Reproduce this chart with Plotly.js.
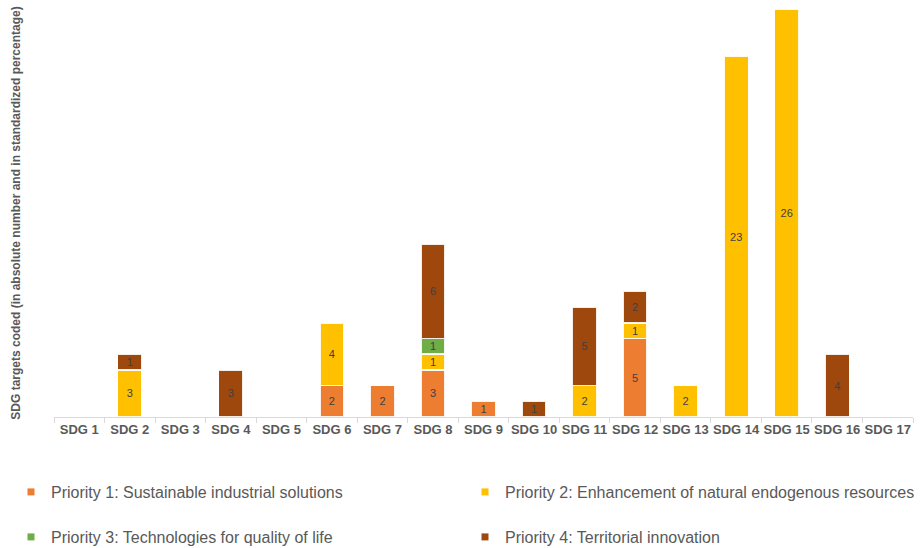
<!DOCTYPE html>
<html>
<head>
<meta charset="utf-8">
<script src="https://cdn.plot.ly/plotly-3.0.1.min.js"></script>
<style>html,body{margin:0;padding:0;background:#fff;}#chart{width:921px;height:548px;}</style>
</head>
<body>
<div id="chart"></div>
<script>
const categories = ["SDG 1","SDG 2","SDG 3","SDG 4","SDG 5","SDG 6","SDG 7","SDG 8","SDG 9","SDG 10","SDG 11","SDG 12","SDG 13","SDG 14","SDG 15","SDG 16","SDG 17"];
const priority1 = [null,null,null,null,null,2,2,3,1,null,null,5,null,null,null,null,null];
const priority2 = [null,3,null,null,null,4,null,1,null,null,2,1,2,23,26,null,null];
const priority3 = [null,null,null,null,null,null,null,1,null,null,null,null,null,null,null,null,null];
const priority4 = [null,1,null,3,null,null,null,6,null,1,5,2,null,null,null,4,null];
const seriesNames = ["Priority 1: Sustainable industrial solutions","Priority 2: Enhancement of natural endogenous resources","Priority 3: Technologies for quality of life","Priority 4: Territorial innovation"];
const seriesColors = ["#ED7D31","#FFC000","#70AD47","#9E480E"];
const seriesValues = [priority1, priority2, priority3, priority4];

const FONT = 'Liberation Sans, Arial, sans-serif';
const legendIds = ['legend','legend2','legend3','legend4'];

const traces = [];
seriesValues.forEach((vals, i) => {
  traces.push({
    type: 'bar', x: categories, y: vals, name: seriesNames[i],
    marker: {color: seriesColors[i], line: {color: 'rgba(255,255,255,0.9)', width: 1.5}},
    text: vals.map(v => v == null ? '' : String(v)),
    textposition: 'inside', insidetextanchor: 'middle', textangle: 0,
    textfont: {color: '#404040', size: 11, family: FONT},
    showlegend: false, hoverinfo: 'skip'
  });
});
seriesValues.forEach((vals, i) => {
  traces.push({
    type: 'scatter', mode: 'markers', x: [null], y: [null], name: seriesNames[i],
    marker: {symbol: 'square', size: 7, color: seriesColors[i]},
    legend: legendIds[i], showlegend: true
  });
});

function legendAt(x, y) {
  return {
    orientation: 'h', xref: 'container', yref: 'container', xanchor: 'left', yanchor: 'middle',
    x: x, y: y, traceorder: 'normal',
    font: {size: 16, color: '#595959', family: FONT},
    bgcolor: 'rgba(0,0,0,0)', borderwidth: 0
  };
}

const layout = {
  width: 921, height: 548,
  margin: {l: 54, r: 8, t: 9, b: 131},
  paper_bgcolor: '#fff', plot_bgcolor: '#fff',
  barmode: 'stack', bargap: 0.52,
  font: {family: FONT, color: '#595959'},
  uniformtext: {minsize: 11, mode: 'show'},
  xaxis: {
    type: 'category', showgrid: false, zeroline: false,
    showline: true, linecolor: '#D9D9D9', linewidth: 1,
    ticks: 'outside', tickson: 'boundaries', ticklen: 5, tickcolor: '#D9D9D9',
    tickangle: 0,
    tickfont: {size: 13, color: '#595959', family: FONT, weight: 'bold'},
    fixedrange: true
  },
  yaxis: {
    range: [0, 26], showgrid: false, zeroline: false, showline: false,
    showticklabels: false, ticks: '', automargin: true,
    title: {text: 'SDG targets coded (in absolute number and in standardized percentage)',
            font: {size: 12, color: '#595959', family: FONT, weight: 'bold'}, standoff: 29},
    fixedrange: true
  },
  legend: legendAt(11/921, 1 - 492/548),
  legend2: legendAt(465/921, 1 - 492/548),
  legend3: legendAt(11/921, 1 - 537/548),
  legend4: legendAt(465/921, 1 - 537/548),
  showlegend: true
};

Plotly.newPlot('chart', traces, layout, {displayModeBar: false, staticPlot: true});
</script>
</body>
</html>
